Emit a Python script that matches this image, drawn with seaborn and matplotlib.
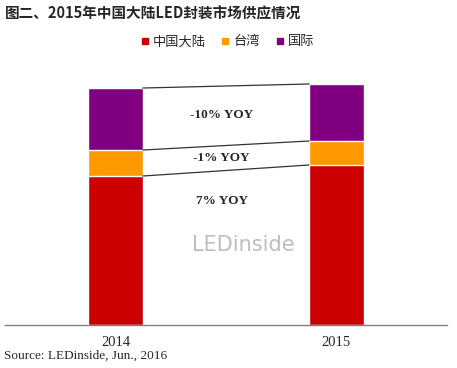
import numpy as np
import pandas as pd
import matplotlib
matplotlib.use("Agg")
import matplotlib.pyplot as plt
import seaborn as sns

# data (relative supply)
years = ["2014", "2015"]
mainland = [149, 160]
taiwan = [26, 24]
international = [62, 57]
yoy_labels = ["7% YOY", "-1% YOY", "-10% YOY"]
series_names = ["中国大陆", "台湾", "国际"]
colors = ["#CC0000", "#FF9900", "#800080"]

sns.set_style("white")
plt.rcParams["font.family"] = ["Noto Sans CJK SC", "DejaVu Sans"]

df = pd.DataFrame({"year": years, "mainland": mainland, "taiwan": taiwan, "intl": international})
df["c1"] = df["mainland"]
df["c2"] = df["c1"] + df["taiwan"]
df["c3"] = df["c2"] + df["intl"]

fig = plt.figure(figsize=(4.57, 3.68), dpi=100)
ax = fig.add_axes([5 / 457, 43 / 368, 442 / 457, 265 / 368])

bar_w = 0.248
# layered cumulative bars -> stacked look
for col, c in zip(["c3", "c2", "c1"], colors[::-1]):
    sns.barplot(data=df, x="year", y=col, color=c, width=bar_w, ax=ax,
                edgecolor="white", linewidth=1, saturation=1)

# connector lines between stacks
for col in ["c1", "c2", "c3"]:
    ax.plot([bar_w / 2, 1 - bar_w / 2], [df[col].iloc[0], df[col].iloc[1]],
            color="#333333", linewidth=0.9)

# YOY labels
mids = [
    (df["c1"].mean()) - 30,
    (df["c1"].mean() + df["c2"].mean()) / 2,
    (df["c2"].mean() + df["c3"].mean()) / 2 + 1,
]
for lab, yv in zip(yoy_labels, mids):
    ax.text(0.48, yv, lab, ha="center", va="center", fontsize=9.5, fontweight="bold",
            family=["Liberation Serif"])

# faint watermark
ax.text(0.577, 80, "LEDinside", ha="center", va="center", fontsize=15,
        color="#bdbdbd", family=["DejaVu Sans"])

ax.set_xlim(-0.5, 1.5)
ax.set_ylim(0, 265)
ax.set_yticks([])
ax.set_xlabel("")
ax.set_ylabel("")
for s in ["top", "right", "left"]:
    ax.spines[s].set_visible(False)
ax.spines["bottom"].set_color("#808080")
ax.spines["bottom"].set_linewidth(1)
ax.tick_params(axis="x", length=0, pad=8)
for t in ax.get_xticklabels():
    t.set_fontfamily(["Liberation Serif"])
    t.set_fontsize(10.5)

fig.text(5 / 457, 1 - 13 / 368, "图二、2015年中国大陆LED封装市场供应情况", fontsize=10.5,
         fontweight="bold", va="center", ha="left")

handles = [plt.Line2D([], [], marker="s", linestyle="", color=c, markersize=5) for c in colors]
fig.legend(handles, series_names, loc="center", bbox_to_anchor=(226 / 457, 1 - 42 / 368),
           ncol=3, frameon=False, fontsize=9.5, handletextpad=0.1, handlelength=1.0,
           columnspacing=1.0)

fig.text(4 / 457, 1 - 356 / 368, "Source: LEDinside, Jun., 2016", fontsize=9.5,
         family=["Liberation Serif"], va="center", ha="left")

fig.savefig("out.png", dpi=100)
